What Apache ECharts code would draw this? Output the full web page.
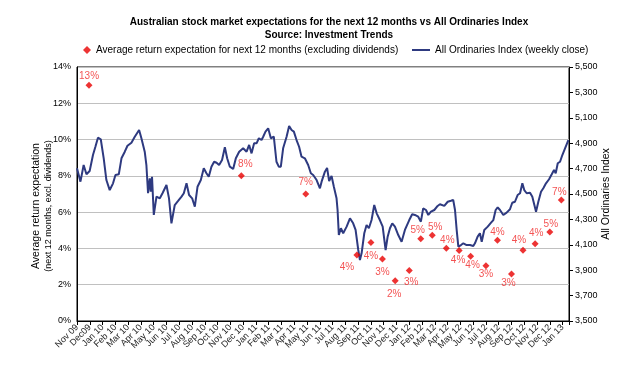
<!DOCTYPE html>
<html>
<head>
<meta charset="utf-8">
<title>Australian stock market expectations vs All Ordinaries Index</title>
<script src="https://cdn.jsdelivr.net/npm/echarts@6/dist/echarts.min.js"></script>
<style>
  html, body { margin: 0; padding: 0; background: #fff; }
  #chart { width: 628px; height: 377px; }
</style>
</head>
<body>
<div id="chart"></div>
<script>
// month tick labels (x axis is counted in months from Nov 09)
const months = [
  'Nov 09', 'Dec09', 'Jan 10', 'Feb 10', 'Mar 10', 'Apr 10', 'May 10', 'Jun 10', 'Jul 10', 'Aug 10',
  'Sep 10', 'Oct 10', 'Nov 10', 'Dec 10', 'Jan 11', 'Feb 11', 'Mar 11', 'Apr 11', 'May 11', 'Jun 11',
  'Jul 11', 'Aug 11', 'Sep 11', 'Oct 11', 'Nov 11', 'Dec 11', 'Jan 12', 'Feb 12', 'Mar 12', 'Apr 12',
  'May 12', 'Jun 12', 'Jul 12', 'Aug 12', 'Sep 12', 'Oct 12', 'Nov 12', 'Dec 12', 'Jan 13'
]

// survey results: position (months since Nov 09) and average expected return (%)
const surveyPos = [0.94, 12.86, 17.9, 21.9, 23.0, 23.9, 24.9, 26.0, 26.9, 27.8,
  28.9, 29.9, 30.8, 32.0, 32.9, 34.0, 34.9, 35.85, 37.0, 37.9]
const surveyValue = [13.0, 8.0, 7.0, 3.64, 4.32, 3.42, 2.22, 2.79, 4.54, 4.72,
  4.01, 3.88, 3.57, 3.05, 4.45, 2.59, 3.90, 4.26, 4.90, 6.67]

// All Ordinaries weekly close: position (months since Nov 09) and index level
const indexPos = [
  0, 0.08, 0.27, 0.52, 0.74, 0.99, 1.25, 1.44, 1.64, 1.86,
  2.09, 2.30, 2.56, 2.82, 3.01, 3.27, 3.48, 3.74, 3.95, 4.26,
  4.52, 4.86, 5.04, 5.30, 5.43, 5.56, 5.69, 5.77, 5.87, 6.01,
  6.22, 6.48, 6.69, 7.00, 7.20, 7.39, 7.65, 7.91, 8.18, 8.36,
  8.57, 8.77, 9.01, 9.22, 9.43, 9.69, 9.92, 10.13, 10.31, 10.52,
  10.73, 10.92, 11.12, 11.35, 11.57, 11.75, 11.96, 12.22, 12.43, 12.69,
  13.00, 13.27, 13.47, 13.66, 13.86, 14.05, 14.23, 14.44, 14.57, 14.75,
  14.96, 15.17, 15.40, 15.61, 15.79, 15.95, 16.13, 16.40, 16.60, 16.79,
  16.97, 17.18, 17.38, 17.57, 17.83, 18.09, 18.30, 18.48, 18.75, 19.01,
  19.14, 19.40, 19.57, 19.73, 19.92, 20.10, 20.31, 20.39, 20.49, 20.65,
  20.83, 21.10, 21.36, 21.61, 21.80, 22.01, 22.14, 22.27, 22.48, 22.66,
  22.84, 23.05, 23.26, 23.45, 23.70, 23.92, 24.15, 24.31, 24.49, 24.67,
  24.88, 25.14, 25.40, 25.66, 25.79, 26.00, 26.23, 26.44, 26.70, 26.91,
  27.09, 27.31, 27.49, 27.70, 27.96, 28.22, 28.40, 28.54, 28.74, 29.01,
  29.26, 29.44, 29.58, 29.71, 29.84, 30.05, 30.23, 30.49, 30.75, 31.01,
  31.14, 31.35, 31.53, 31.67, 31.87, 32.14, 32.40, 32.58, 32.76, 32.92,
  33.10, 33.36, 33.62, 33.88, 34.06, 34.27, 34.48, 34.67, 34.85, 35.00,
  35.19, 35.45, 35.63, 35.79, 35.92, 36.10, 36.31, 36.49, 36.70, 36.94,
  37.15, 37.33, 37.46, 37.62, 37.80, 37.98, 38.19, 38.45
]
const indexClose = [
  4702, 4715, 4597, 4728, 4655, 4681, 4807, 4872, 4943, 4931,
  4781, 4610, 4531, 4584, 4650, 4655, 4781, 4833, 4880, 4904,
  4951, 5004, 4939, 4833, 4728, 4506, 4624, 4518, 4636, 4335,
  4479, 4466, 4506, 4571, 4466, 4269, 4413, 4445, 4479, 4506,
  4584, 4492, 4466, 4400, 4557, 4610, 4702, 4663, 4636, 4715,
  4754, 4746, 4728, 4768, 4868, 4781, 4715, 4697, 4781, 4833,
  4860, 4833, 4886, 4820, 4899, 4899, 4939, 4925, 4951, 4991,
  5017, 4939, 4951, 4754, 4715, 4715, 4860, 4951, 5035, 5004,
  4991, 4925, 4872, 4794, 4781, 4728, 4663, 4650, 4610, 4545,
  4597, 4676, 4705, 4602, 4642, 4557, 4466, 4374, 4177, 4230,
  4191, 4243, 4309, 4269, 4217, 4059, 3980, 4033, 4191, 4256,
  4230, 4295, 4413, 4348, 4295, 4243, 4059, 4164, 4230, 4269,
  4243, 4177, 4124, 4217, 4230, 4295, 4340, 4335, 4321, 4282,
  4387, 4374, 4335, 4361, 4374, 4406, 4419, 4413, 4406, 4439,
  4447, 4453, 4374, 4217, 4085, 4098, 4112, 4098, 4098, 4091,
  4112, 4164, 4191, 4124, 4217, 4243, 4274, 4295, 4374, 4395,
  4374, 4335, 4353, 4380, 4431, 4439, 4492, 4506, 4584, 4531,
  4506, 4510, 4479, 4413, 4361, 4439, 4518, 4545, 4584, 4616,
  4655, 4689, 4663, 4742, 4754, 4807, 4860, 4925
]

const surveyName = 'Average return expectation for next 12 months (excluding dividends)'
const indexName = 'All Ordinaries Index (weekly close)'

// where each percentage label sits relative to its diamond (px)
const labelOffsets = [
  [0, -9], [4, -12], [0, -12], [-10, 12], [0, 14], [0, 13], [-1, 14], [2, 12], [-3, -8], [3, -8],
  [1, -8], [-1, 10], [2, 9], [0, 9], [0, -8], [-3, 9], [-4, -10], [1, -10], [1, -8], [-2, -8]
]

const font = 'Liberation Sans, Arial, sans-serif'
const chart = echarts.init(document.getElementById('chart'))

const option = {
  animation: false,
  backgroundColor: '#fff',
  textStyle: { fontFamily: font, color: '#000' },
  title: {
    text: 'Australian stock market expectations for the next 12 months vs All Ordinaries Index\nSource: Investment Trends',
    left: 324,
    textAlign: 'center',
    top: 11,
    textStyle: { fontSize: 10, fontWeight: 'bold', lineHeight: 13, color: '#000', fontFamily: font }
  },
  legend: [
    {
      data: [{ name: surveyName, icon: 'diamond' }],
      left: 78,
      top: 40,
      itemWidth: 8,
      itemHeight: 8,
      textStyle: { fontSize: 10, color: '#000', fontFamily: font }
    },
    {
      data: [{ name: indexName, icon: 'rect' }],
      left: 407,
      top: 40,
      itemWidth: 18,
      itemHeight: 2,
      textStyle: { fontSize: 10, color: '#000', fontFamily: font }
    }
  ],
  grid: {
    left: 77,
    right: 59,
    top: 67,
    bottom: 56,
    show: true,
    borderColor: '#000',
    borderWidth: 1
  },
  xAxis: {
    type: 'value',
    min: 0,
    max: 38.5,
    interval: 1,
    axisLine: { lineStyle: { color: '#000' } },
    axisTick: { show: true, length: 4, lineStyle: { color: '#000' } },
    splitLine: { show: false },
    axisLabel: {
      rotate: 45,
      margin: 5,
      fontSize: 9,
      color: '#222',
      fontFamily: font,
      formatter: v => (Number.isInteger(v) && months[v]) ? months[v] : ''
    }
  },
  yAxis: [
    {
      type: 'value',
      min: 0,
      max: 14,
      interval: 2,
      position: 'left',
      axisLine: { show: true, lineStyle: { color: '#000' } },
      axisTick: { show: false },
      splitLine: { lineStyle: { color: '#c0c0c0', width: 1 } },
      axisLabel: { formatter: '{value}%', fontSize: 9, color: '#000', margin: 6, fontFamily: font },
      name: '{a|Average return expectation}\n{b|(next 12 months, excl. dividends)}',
      nameLocation: 'middle',
      nameRotate: 90,
      nameGap: 23,
      nameMoveOverlap: false,
      nameTextStyle: {
        fontFamily: font,
        padding: [0, 24, 0, 0],
        rich: {
          a: { fontSize: 10.5, lineHeight: 13, color: '#000', fontFamily: font },
          b: { fontSize: 9, lineHeight: 11, color: '#000', fontFamily: font }
        }
      }
    },
    {
      type: 'value',
      min: 3500,
      max: 5500,
      interval: 200,
      position: 'right',
      axisLine: { show: true, lineStyle: { color: '#000' } },
      axisTick: { show: true, length: 4, lineStyle: { color: '#000' } },
      splitLine: { show: false },
      axisLabel: {
        formatter: v => v.toLocaleString('en-US'),
        fontSize: 9,
        color: '#000',
        margin: 6,
        fontFamily: font
      },
      name: 'All Ordinaries Index',
      nameLocation: 'middle',
      nameRotate: 90,
      nameGap: 32,
      nameMoveOverlap: false,
      nameTextStyle: { fontSize: 10.5, color: '#000', fontFamily: font }
    }
  ],
  series: [
    {
      name: indexName,
      type: 'line',
      yAxisIndex: 1,
      symbol: 'none',
      lineStyle: { color: '#2e3a80', width: 2 },
      itemStyle: { color: '#2e3a80' },
      data: indexPos.map((p, i) => [p, indexClose[i]]),
      z: 2
    },
    {
      name: surveyName,
      type: 'scatter',
      yAxisIndex: 0,
      symbol: 'diamond',
      symbolSize: 7,
      itemStyle: { color: '#e80000' },
      label: {
        show: true,
        position: 'inside',
        formatter: p => Math.round(p.value[1]) + '%',
        color: '#f02828',
        fontSize: 10,
        fontFamily: font
      },
      data: surveyPos.map((p, i) => ({
        value: [p, surveyValue[i]],
        label: { offset: labelOffsets[i] }
      })),
      z: 3
    }
  ]
}

chart.setOption(option)
window.addEventListener('resize', () => chart && chart.resize())
</script>
</body>
</html>
